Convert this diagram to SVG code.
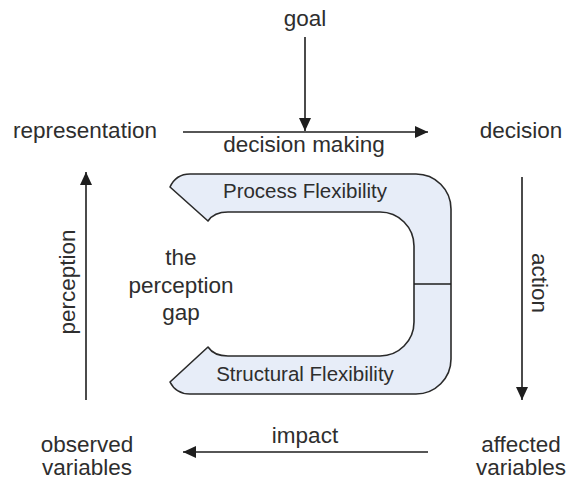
<svg xmlns="http://www.w3.org/2000/svg" width="567" height="485" viewBox="0 0 567 485">
<defs>
<style>
.t{font-family:"Liberation Sans",Arial,sans-serif;font-size:22.5px;fill:#2e2e2e;text-anchor:middle}
.s{font-size:20.5px}
.c{stroke:#1e1e1e;stroke-width:1.6;fill:none}
.band{fill:#e7edf8;stroke:#2a2a2a;stroke-width:1.6;stroke-linejoin:round}
</style>
<marker id="ah" markerUnits="userSpaceOnUse" markerWidth="14" markerHeight="12" refX="13" refY="6" orient="auto">
<path d="M0,0 L13,6 L0,12 Z" fill="#1e1e1e"/>
</marker>
</defs>
<rect width="567" height="485" fill="#ffffff"/>
<g id="connectors">
<line class="c" x1="305" y1="37" x2="305" y2="131" marker-end="url(#ah)"/>
<line class="c" x1="183" y1="132" x2="428" y2="132" marker-end="url(#ah)"/>
<line class="c" x1="522" y1="177" x2="522" y2="400" marker-end="url(#ah)"/>
<line class="c" x1="428" y1="452" x2="183" y2="452" marker-end="url(#ah)"/>
<line class="c" x1="86" y1="400" x2="86" y2="172" marker-end="url(#ah)"/>
<text class="t" x="304" y="152">decision making</text>
<text class="t" x="305" y="443">impact</text>
<text class="t" transform="translate(75,282) rotate(-90)">perception</text>
<text class="t" transform="translate(532,283) rotate(90)">action</text>
</g>
<g id="goal"><text class="t" x="305" y="26">goal</text></g>
<g id="representation"><text class="t" x="85" y="138">representation</text></g>
<g id="decision"><text class="t" x="521" y="138">decision</text></g>
<g id="observed-variables"><text class="t" x="87" y="452">observed</text><text class="t" x="87" y="475">variables</text></g>
<g id="affected-variables"><text class="t" x="521" y="452">affected</text><text class="t" x="521" y="475">variables</text></g>
<g id="flexibility">
<path class="band" d="M170,187 Q176,174 190,174 L416,174 A35,35 0 0 1 451,209 L451,359 A35,35 0 0 1 416,394 L190,394 Q176,394 170,382 L208,347 Q214,356 228,356 L380,356 A34,34 0 0 0 414,322 L414,246 A34,34 0 0 0 380,212 L228,212 Q214,212 208,221 Z"/>
<line class="c" x1="414" y1="284" x2="451" y2="284" stroke-width="1.4"/>
<text class="t s" x="305" y="198">Process Flexibility</text>
<text class="t s" x="305" y="381">Structural Flexibility</text>
</g>
<g id="perception-gap">
<text class="t" x="181" y="265">the</text>
<text class="t" x="181" y="293">perception</text>
<text class="t" x="181" y="320">gap</text>
</g>
</svg>
